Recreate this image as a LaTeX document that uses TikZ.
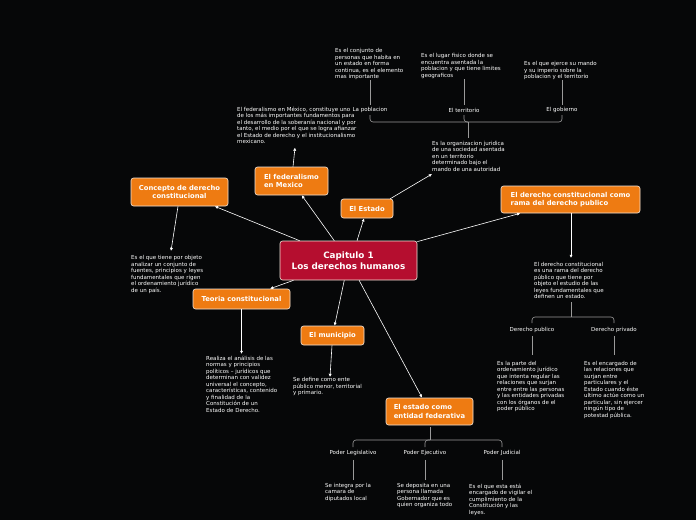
\documentclass[tikz,border=0pt]{standalone}
\usepackage{fontspec}
\setmainfont{DejaVu Sans}
\usetikzlibrary{arrows.meta,calc}
\definecolor{bg}{HTML}{060708}
\definecolor{org}{HTML}{EE7B12}
\definecolor{crim}{HTML}{B50E2F}
\definecolor{treeg}{HTML}{9A9A9A}
\definecolor{bord}{HTML}{F2E6DA}
\begin{document}
\begin{tikzpicture}[x=1pt,y=-1pt,
 box/.style={draw=bord, line width=0.6pt, rounded corners=2.5pt, fill=org, text=white, font=\fontsize{6.8}{8.4}\selectfont\bfseries, inner sep=0pt},
 txt/.style={anchor=north west, inner sep=0pt, text=white, align=left, font=\fontsize{5.5}{6.5}\selectfont},
 lbl/.style={inner sep=0pt, text=white, font=\fontsize{5.5}{6.5}\selectfont},
 arr/.style={draw=white, line width=0.6pt, -{Latex[length=3.2pt,width=3.2pt]}},
 tree/.style={draw=treeg, line width=0.6pt, rounded corners=3pt},
 stem/.style={draw=treeg, line width=0.6pt}]
\fill[bg] (0,0) rectangle (696,520);
\useasboundingbox (0,0) rectangle (696,520);

% main boxes
\node[box, fill=crim, minimum width=137pt, minimum height=39pt, align=center, font=\fontsize{8.8}{11.3}\selectfont\bfseries] (cap) at (348.5,260.5) {Capitulo 1\\Los derechos humanos};
\node[box, minimum width=97pt, minimum height=28pt, align=center] (concepto) at (179.5,192) {Concepto de derecho\\constitucional};
\node[box, minimum width=73pt, minimum height=28pt, align=left] (fed) at (291.5,181) {El federalismo\\en Mexico};
\node[box, minimum width=52pt, minimum height=19pt] (estado) at (367,208.5) {El Estado};
\node[box, minimum width=139pt, minimum height=27pt, align=left] (dcr) at (570.5,199.5) {El derecho constitucional como\\rama del derecho publico};
\node[box, minimum width=97pt, minimum height=20pt] (teoria) at (241.5,299) {Teoria constitucional};
\node[box, minimum width=63pt, minimum height=19pt] (muni) at (332.5,335.5) {El municipio};
\node[box, minimum width=87pt, minimum height=27pt, align=left] (entidad) at (429.5,411.5) {El estado como\\entidad federativa};

% texts
\node[txt] (tpob) at (335,48.5) {Es el conjunto de\\personas que habita en\\un estado en forma\\continua, es el elemento\\mas importante};
\node[txt] (tterr) at (421,53.5) {Es el lugar fisico donde se\\encuentra asentada la\\poblacion y que tiene limites\\geograficos};
\node[txt] (tgob) at (524,61.5) {Es el que ejerce su mando\\y su imperio sobre la\\poblacion y el territorio};
\node[lbl] (lpob) at (370,110) {La poblacion};
\node[lbl] (lterr) at (464,110) {El territorio};
\node[lbl] (lgob) at (562,110) {El gobierno};
\node[txt] (tfed) at (237,106.5) {El federalismo en México, constituye uno\\de los más importantes fundamentos para\\el desarrollo de la soberanía nacional y por\\tanto, el medio por el que se logra afianzar\\el Estado de derecho y el institucionalismo\\mexicano.};
\node[txt] (torg) at (432,140.8) {Es la organizacion juridica\\de una sociedad asentada\\en un territorio\\determinado bajo el\\mando de una autoridad};
\node[txt] (tcon) at (131,255.5) {Es el que tiene por objeto\\analizar un conjunto de\\fuentes, principios y leyes\\fundamentales que rigen\\el ordenamiento jurídico\\de un país.};
\node[txt] (tteo) at (206,355.5) {Realiza el análisis de las\\normas y principios\\políticos – jurídicos que\\determinan con validez\\universal el concepto,\\características, contenido\\y finalidad de la\\Constitución de un\\Estado de Derecho.};
\node[txt] (tmun) at (293,377.5) {Se define como ente\\público menor, territorial\\y primario.};
\node[txt] (tdcr) at (534,262) {El derecho constitucional\\es una rama del derecho\\público que tiene por\\objeto el estudio de las\\leyes fundamentales que\\definen un estado.};
\node[lbl] (lpub) at (532,330) {Derecho publico};
\node[lbl] (lpriv) at (614,330) {Derecho privado};
\node[txt] (tpub) at (497,361) {Es la parte del\\ordenamiento jurídico\\que intenta regular las\\relaciones que surjan\\entre entre las personas\\y las entidades privadas\\con los órganos de el\\poder público};
\node[txt] (tpriv) at (584,361) {Es el encargado de\\las relaciones que\\surjan entre\\particulares y el\\Estado cuando éste\\ultimo actúe como un\\particular, sin ejercer\\ningún tipo de\\potestad pública.};
\node[lbl] (lleg) at (353,453) {Poder Legislativo};
\node[lbl] (lej) at (425,453) {Poder Ejecutivo};
\node[lbl] (ljud) at (502,453) {Poder Judicial};
\node[txt] (tleg) at (325,483) {Se integra por la\\camara de\\diputados local};
\node[txt] (tej) at (397,483) {Se deposita en una\\persona llamada\\Gobernador que es\\quien organiza todo};
\node[txt] (tjud) at (469,483.5) {Es el que esta está\\encargado de vigilar el\\cumplimiento de la\\Constitución y las\\leyes.};

% arrow end coordinates
\coordinate (econ) at (171,251);
\coordinate (efed) at (295,147.5);
\coordinate (eorg) at (432,174);
\coordinate (eteo) at (241.5,354);
\coordinate (emun) at (330,377);
\coordinate (edcr) at (571,258);

% connectors from central node
\draw[arr] (cap) -- (concepto);
\draw[arr] (cap) -- (fed);
\draw[arr] ([xshift=8.5pt]cap.north) -- ([xshift=-3pt]estado.south);
\draw[arr] (cap) -- (dcr);
\draw[arr] (cap) -- (teoria);
\draw[arr] (cap) -- (muni);
\draw[arr] (cap) -- (entidad);

% connectors from boxes to texts
\draw[arr] ([xshift=-1.5pt]concepto.south) -- (econ);
\draw[arr] ([xshift=1.5pt]fed.north) -- (efed);
\draw[arr] ([xshift=-3pt]estado.north east) -- (eorg);
\draw[arr] (teoria.south) -- (eteo);
\draw[arr] ([xshift=-0.5pt]muni.south) -- (emun);
\draw[arr] ([xshift=0.5pt]dcr.south) -- (edcr);

% top tree
\draw[stem] (torg.north -| 468,0) ++(0,-3) -- (468,122);
\draw[tree] (370,115) -- (370,122) -- (562,122) -- (562,115);
\draw[tree] (464,115) -- (464,122) -- (468,122);
\draw[stem] (lpob.north) ++(0,-2.5) -- (tpob.south -| lpob.north);
\draw[stem] (lterr.north) ++(0,-2.5) -- (tterr.south -| lterr.north);
\draw[stem] (lgob.north) ++(0,-2.5) -- (tgob.south -| lgob.north);

% right tree
\draw[stem] (tdcr.south -| 571,0) ++(0,3) -- (571,317);
\draw[tree] (532,323) -- (532,317) -- (614,317) -- (614,323);
\draw[stem] (lpub.south) ++(0,3) -- (532,355);
\draw[stem] (lpriv.south) ++(0,3) -- (614,355);

% bottom tree
\draw[stem] (entidad.south -| 430,0) ++(0,1.5) -- (430,440);
\draw[tree] (353,447) -- (353,440) -- (502,440) -- (502,447);
\draw[tree] (425,447) -- (425,440) -- (430,440);
\draw[stem] (lleg.south) ++(0,4) -- (353,480);
\draw[stem] (lej.south) ++(0,4) -- (425,480);
\draw[stem] (ljud.south) ++(0,4) -- (502,480);
\end{tikzpicture}
\end{document}
